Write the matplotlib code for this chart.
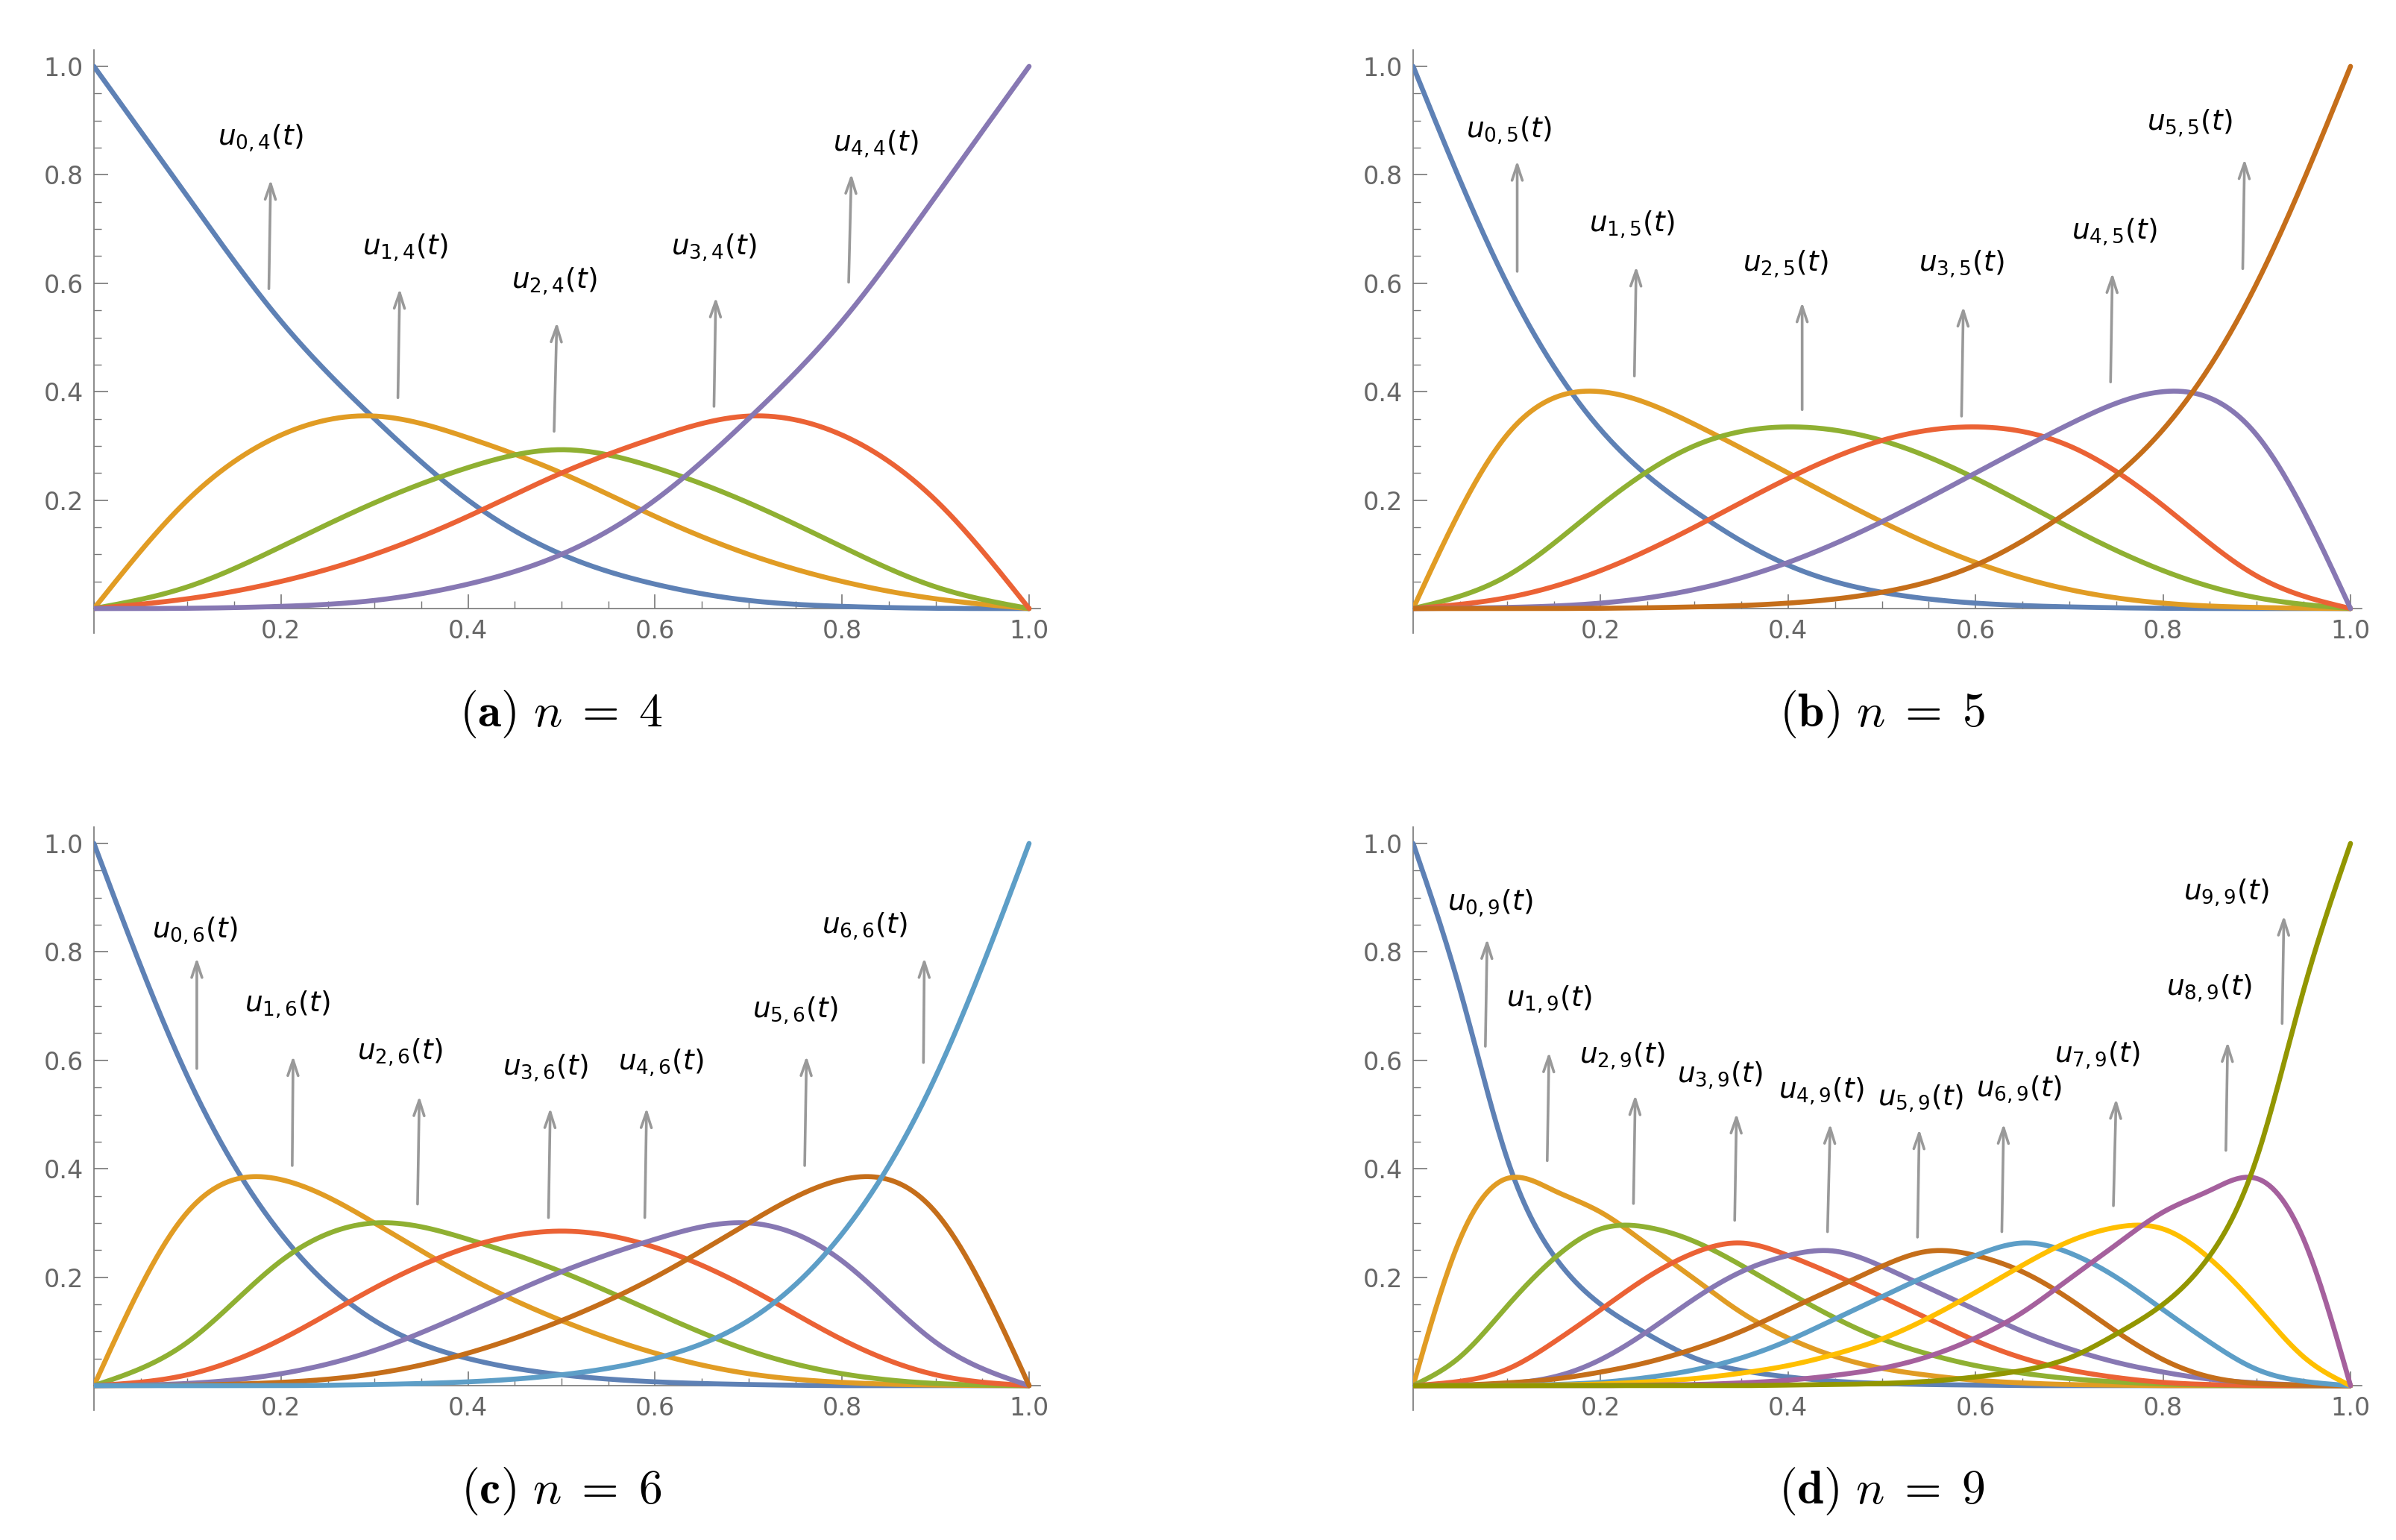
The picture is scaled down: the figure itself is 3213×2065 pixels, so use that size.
import numpy as np
import matplotlib
matplotlib.use("Agg")
import matplotlib.pyplot as plt
from matplotlib.ticker import MultipleLocator, FixedLocator

# ========= 資料 =========
T10 = [0.0, 0.1, 0.2, 0.3, 0.4, 0.5, 0.6, 0.7, 0.8, 0.9, 1.0]
T20 = [i / 20 for i in range(21)]

# n = 4 (u3 = u1 反轉, u4 = u0 反轉)
n4_u0 = [1.0, 0.76, 0.53, 0.35, 0.20, 0.10, 0.045, 0.015, 0.004, 0.0005, 0.0]
n4_u1 = [0.0, 0.20, 0.32, 0.355, 0.315, 0.25, 0.17, 0.10, 0.05, 0.018, 0.0]
n4_u2 = [0.0, 0.04, 0.114, 0.195, 0.26, 0.293, 0.26, 0.195, 0.114, 0.04, 0.0]

# n = 5
n5_u0 = [1.0, 0.60, 0.33, 0.18, 0.08, 0.03, 0.01, 0.003, 0.0005, 0.0, 0.0]
n5_u1 = [0.0, 0.32, 0.40, 0.34, 0.25, 0.16, 0.085, 0.035, 0.01, 0.002, 0.0]
n5_u2 = [0.0, 0.06, 0.19, 0.30, 0.335, 0.31, 0.24, 0.15, 0.07, 0.02, 0.0]

# n = 6
n6_u0 = [1.0, 0.57, 0.28, 0.12, 0.05, 0.02, 0.007, 0.002, 0.0, 0.0, 0.0]
n6_u1 = [0.0, 0.32, 0.38, 0.30, 0.20, 0.12, 0.06, 0.022, 0.006, 0.001, 0.0]
n6_u2 = [0.0, 0.08, 0.23, 0.30, 0.27, 0.21, 0.135, 0.065, 0.022, 0.004, 0.0]
n6_u3 = [0.0, 0.02, 0.085, 0.18, 0.255, 0.285, 0.255, 0.18, 0.085, 0.02, 0.0]

# n = 9 (0.05 步長)
n9_u0 = [1.0, 0.73, 0.42, 0.24, 0.15, 0.095, 0.051, 0.028, 0.016, 0.008, 0.004,
         0.002, 0.001, 0.0, 0.0, 0.0, 0.0, 0.0, 0.0, 0.0, 0.0]
n9_u1 = [0.0, 0.27, 0.382, 0.36, 0.32, 0.26, 0.197, 0.135, 0.088, 0.054, 0.032,
         0.019, 0.01, 0.005, 0.002, 0.001, 0.0, 0.0, 0.0, 0.0, 0.0]
n9_u2 = [0.0, 0.053, 0.146, 0.234, 0.289, 0.292, 0.266, 0.222, 0.172, 0.125, 0.086,
         0.058, 0.037, 0.023, 0.013, 0.007, 0.003, 0.001, 0.0, 0.0, 0.0]
n9_u3 = [0.0, 0.008, 0.03, 0.08, 0.14, 0.20, 0.245, 0.263, 0.24, 0.204, 0.164,
         0.123, 0.083, 0.051, 0.029, 0.015, 0.006, 0.002, 0.0005, 0.0, 0.0]
n9_u4 = [0.0, 0.001, 0.004, 0.016, 0.048, 0.10, 0.16, 0.21, 0.24, 0.248, 0.22,
         0.18, 0.14, 0.10, 0.068, 0.043, 0.025, 0.012, 0.005, 0.001, 0.0]

PANELS = {
    "a": dict(n=4, t=T10, half=[n4_u0, n4_u1, n4_u2], mid=True),
    "b": dict(n=5, t=T10, half=[n5_u0, n5_u1, n5_u2], mid=False),
    "c": dict(n=6, t=T10, half=[n6_u0, n6_u1, n6_u2, n6_u3], mid=True),
    "d": dict(n=9, t=T20, half=[n9_u0, n9_u1, n9_u2, n9_u3, n9_u4], mid=False),
}

# 標籤位置 (label x, label y, arrow x0, y0, x1, y1)
LABELS = {
    "a": [(0.178, 0.868, 0.187, 0.586, 0.189, 0.795),
          (0.333, 0.665, 0.325, 0.385, 0.327, 0.594),
          (0.492, 0.603, 0.492, 0.323, 0.495, 0.532),
          (0.663, 0.665, 0.663, 0.369, 0.665, 0.578),
          (0.836, 0.857, 0.807, 0.598, 0.810, 0.806)],
    "b": [(0.102, 0.881, 0.111, 0.618, 0.111, 0.830),
          (0.233, 0.708, 0.236, 0.425, 0.238, 0.635),
          (0.397, 0.635, 0.415, 0.363, 0.415, 0.569),
          (0.585, 0.635, 0.585, 0.351, 0.587, 0.561),
          (0.748, 0.694, 0.744, 0.414, 0.746, 0.623),
          (0.828, 0.895, 0.885, 0.623, 0.887, 0.833)],
    "c": [(0.108, 0.839, 0.110, 0.581, 0.110, 0.793),
          (0.207, 0.703, 0.212, 0.402, 0.213, 0.612),
          (0.327, 0.615, 0.346, 0.331, 0.348, 0.538),
          (0.483, 0.586, 0.486, 0.306, 0.488, 0.516),
          (0.606, 0.595, 0.589, 0.306, 0.591, 0.516),
          (0.750, 0.691, 0.760, 0.402, 0.762, 0.612),
          (0.824, 0.847, 0.887, 0.592, 0.888, 0.793)],
    "d": [(0.082, 0.890, 0.077, 0.622, 0.079, 0.828),
          (0.145, 0.712, 0.143, 0.411, 0.145, 0.619),
          (0.223, 0.607, 0.235, 0.332, 0.237, 0.540),
          (0.327, 0.572, 0.343, 0.301, 0.345, 0.506),
          (0.435, 0.543, 0.442, 0.280, 0.445, 0.487),
          (0.541, 0.529, 0.538, 0.270, 0.540, 0.477),
          (0.646, 0.546, 0.628, 0.280, 0.630, 0.487),
          (0.730, 0.609, 0.747, 0.328, 0.750, 0.533),
          (0.849, 0.733, 0.867, 0.430, 0.869, 0.638),
          (0.867, 0.909, 0.927, 0.664, 0.929, 0.871)],
}

COLORS = ["#5E81B5", "#E19C24", "#8FB032", "#EB6235", "#8778B3",
          "#C56E1A", "#5D9EC7", "#FFBF00", "#A5609D", "#929600"]

W, H = 3213, 2065
# 面板位置（像素）：x=0 的位置、每單位寬、y=0 的位置（由上往下）
POS = {"a": (126, 1254, 816), "b": (1895, 1257, 816),
       "c": (126, 1254, 1858), "d": (1895, 1257, 1858)}
YUNIT = 727


def spline(x, y, xx):
    """自然三次樣條，只用來把讀到的點畫平滑"""
    x = np.asarray(x, float)
    y = np.asarray(y, float)
    n = len(x)
    h = np.diff(x)
    A = np.zeros((n, n))
    r = np.zeros(n)
    A[0, 0] = A[-1, -1] = 1
    for i in range(1, n - 1):
        A[i, i - 1] = h[i - 1]
        A[i, i] = 2 * (h[i - 1] + h[i])
        A[i, i + 1] = h[i]
        r[i] = 3 * ((y[i + 1] - y[i]) / h[i] - (y[i] - y[i - 1]) / h[i - 1])
    c = np.linalg.solve(A, r)
    b = (y[1:] - y[:-1]) / h - h * (2 * c[:-1] + c[1:]) / 3
    d = (c[1:] - c[:-1]) / (3 * h)
    k = np.clip(np.searchsorted(x, xx) - 1, 0, n - 2)
    dx = xx - x[k]
    return y[k] + b[k] * dx + c[k] * dx ** 2 + d[k] * dx ** 3


fig = plt.figure(figsize=(W / 100, H / 100), dpi=100)
ylo, yhi = -0.045, 1.03

for key, p in PANELS.items():
    x0, xu, y0 = POS[key]
    ax = fig.add_axes([x0 / W, (H - (y0 - ylo * YUNIT)) / H,
                       1.012 * xu / W, (yhi - ylo) * YUNIT / H])
    t = np.asarray(p["t"])
    half = [np.asarray(h) for h in p["half"]]
    curves = list(half)
    rest = half[:-1] if p["mid"] else half
    curves += [h[::-1] for h in rest[::-1]]
    tt = np.linspace(0, 1, 600)
    for i, cv in enumerate(curves):
        yy = np.clip(spline(t, cv, tt), 0, None)
        ax.plot(tt, yy, color=COLORS[i], lw=4.8, solid_capstyle="round", zorder=3)

    n = p["n"]
    for i, (lx, ly, ax0, ay0, ax1, ay1) in enumerate(LABELS[key]):
        ax.text(lx, ly, rf"$u_{{{i},{n}}}(t)$", fontsize=27, ha="center", va="center",
                math_fontfamily="dejavusans")
        ax.annotate("", xy=(ax1, ay1), xytext=(ax0, ay0),
                    arrowprops=dict(arrowstyle="->,head_length=1.5,head_width=0.5",
                                    color="#999999", lw=2.6))

    ax.set_xlim(0, 1.012)
    ax.set_ylim(ylo, yhi)
    for s in ("top", "right"):
        ax.spines[s].set_visible(False)
    ax.spines["bottom"].set_position(("data", 0))
    ax.spines["left"].set_position(("data", 0))
    for s in ("bottom", "left"):
        ax.spines[s].set_color("#777777")
        ax.spines[s].set_linewidth(1.2)
    ax.xaxis.set_major_locator(FixedLocator([0.2, 0.4, 0.6, 0.8, 1.0]))
    ax.yaxis.set_major_locator(FixedLocator([0.2, 0.4, 0.6, 0.8, 1.0]))
    ax.xaxis.set_minor_locator(MultipleLocator(0.05))
    ax.yaxis.set_minor_locator(MultipleLocator(0.05))
    ax.tick_params(which="major", direction="in", length=14, width=1.2,
                   color="#777777", labelcolor="#666666", labelsize=24, pad=10)
    ax.tick_params(which="minor", direction="in", length=7, width=1.0, color="#777777")
    ax.set_xticklabels(["0.2", "0.4", "0.6", "0.8", "1.0"])
    ax.set_yticklabels(["0.2", "0.4", "0.6", "0.8", "1.0"])

    cx = (x0 + 0.5 * xu) / W
    cy = (H - (y0 + 142)) / H
    fig.text(cx, cy, rf"$\mathbf{{({key})}}\ n\;=\;{n}$", fontsize=46, ha="center",
             va="center", math_fontfamily="cm")

fig.savefig("out.png", dpi=100)
